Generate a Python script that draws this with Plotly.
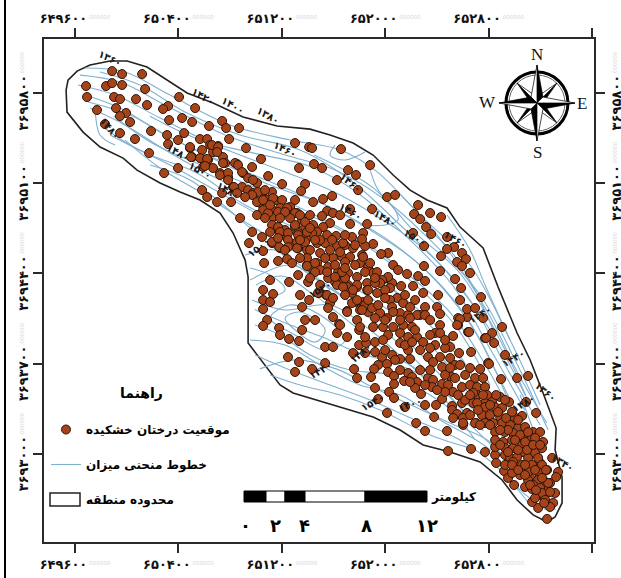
import plotly.graph_objects as go

EAST_BASE = 649000
NORTH_BASE = 3692000

x_tick_values = [649600, 650400, 651200, 652000, 652800, 653600]
x_tick_labels = ["۶۴۹۶۰۰", "۶۵۰۴۰۰", "۶۵۱۲۰۰", "۶۵۲۰۰۰", "۶۵۲۸۰۰", "۶۵۳۶۰۰"]
y_tick_values = [3693000, 3693700, 3694400, 3695100, 3695800]
y_tick_labels = ["۳۶۹۳۰۰۰", "۳۶۹۳۷۰۰", "۳۶۹۴۴۰۰", "۳۶۹۵۱۰۰", "۳۶۹۵۸۰۰"]

boundary = [(531,3823),(546,3900),(616,3970),(716,4017),(871,4048),(1003,4048),(1157,4001),(1312,3900),(1467,3800),(1668,3722),(1900,3614),(2163,3544),(2418,3520),(2573,3474),(2751,3412),(2906,3319),(3061,3164),(3192,3047),(3324,2970),(3478,2908),(3579,2760),(3757,2598),(3873,2295),(4020,1938),(4121,1729),(4221,1473),(4322,1201),(4314,1031),(4368,821),(4368,620),(4314,511),(4252,472),(4144,527),(4020,643),(3904,798),(3734,938),(3502,1015),(3293,1070),(3115,1186),(2906,1287),(2674,1357),(2473,1419),(2287,1473),(2186,1535),(2086,1667),(1939,1861),(1939,2140),(1939,2373),(1916,2504),(1823,2714),(1722,2869),(1567,2970),(1413,3032),(1258,3102),(1080,3202),(972,3295),(794,3381),(662,3497),(538,3652),(531,3823)]

contours = [
[(678,3994),(987,3963),(1335,3784),(1799,3552),(2264,3435),(2651,3358),(2921,3202),(3270,2853),(3656,2466),(3966,1884),(4198,1380)],
[(639,3939),(948,3885),(1297,3707),(1761,3474),(2225,3319),(2612,3202),(2999,2970),(3347,2660),(3734,2233),(4004,1729),(4260,1186)],
[(623,3862),(910,3784),(1258,3606),(1683,3396),(2186,3202),(2573,3047),(2921,2853),(3308,2582),(3656,2194),(3927,1690),(4198,1225)],
[(678,3784),(948,3683),(1258,3497),(1606,3319),(2109,3086),(2535,2931),(2883,2737),(3270,2466),(3618,2078),(3850,1651),(4121,1108)],
[(716,3683),(987,3552),(1297,3358),(1645,3164),(2070,2970),(2496,2815),(2844,2621),(3192,2349),(3540,2000),(3811,1535)],
[(794,3552),(1026,3396),(1335,3241),(1683,3047),(2032,2853),(2457,2660),(2805,2466),(3115,2233),(3463,1923),(3734,1496)],
[(987,3435),(1258,3218),(1606,3009),(1954,2776),(2341,2543),(2728,2311),(3076,2078),(3386,1806),(3656,1457)],
[(1181,3241),(1490,3125),(1838,2853),(2109,2621),(2418,2388),(2767,2155),(3115,1923),(3424,1613)],
[(794,3963),(1103,3862),(1451,3652),(1877,3474),(2341,3358),(2728,3125),(3115,2776),(3463,2427),(3811,1962),(4082,1457)],
[(701,3730),(1026,3629),(1374,3435),(1799,3241),(2264,3047),(2651,2877),(3076,2621),(3424,2310),(3734,1884),(3981,1341)],
[(871,3474),(1181,3319),(1529,3187),(1916,2931),(2302,2753),(2689,2543),(2999,2326),(3308,2039),(3618,1690),(3850,1341)],
[(1954,2349),(2264,2466),(2496,2349),(2805,2117),(3115,1845),(3424,1535),(3656,1264)],
[(1970,2194),(2225,2117),(2573,2155),(2883,1962),(3192,1690),(3463,1419),(3695,1108)],
[(2109,2054),(2264,2155),(2496,2078),(2689,1884),(2535,1806),(2302,1923),(2109,2054)],
[(2225,2054),(2341,2101),(2535,1962),(2457,1868),(2302,1962),(2225,2054)],
[(1954,1884),(2225,1845),(2496,1690),(2805,1535),(3115,1457),(3424,1264),(3811,1031),(4043,721),(4275,550)],
[(1993,1768),(2264,1651),(2573,1535),(2883,1419),(3231,1264),(3579,1108),(3889,876),(4121,604)],
[(2109,1613),(2341,1535),(2651,1457),(2960,1341),(3347,1147),(3656,1046)],
[(1993,2000),(2186,1923),(2418,1768),(2728,1651),(3037,1613),(3347,1457),(3656,1225),(3966,915),(4237,604)],
[(4043,1457),(4198,1031),(4275,721),(4314,565)],
[(3966,1264),(4121,876),(4237,565)],
[(2612,3396),(2573,3319),(2689,3280),(2844,3342)],
[(2883,3202),(2945,3047),(3076,2892),(3099,2815),(2999,2776),(2805,2776)],
[(3231,2931),(3308,2776),(3502,2582),(3695,2272),(3850,1923)],
[(3478,2854),(3656,2582),(3772,2311),(3966,1884)],
[(1916,2543),(2148,2582),(2341,2466),(2573,2272)],
[(1954,2442),(2109,2388),(2225,2272),(2032,2194)],
[(755,3707),(794,3474),(910,3396)],
[(1990,2120),(2240,2010),(2520,1905),(2780,1790),(3080,1700),(3380,1560),(3700,1330),(4010,1010),(4200,700)],
[(2030,1660),(2300,1730),(2620,1660),(2900,1520),(3200,1380),(3500,1240),(3800,1100),(4000,870)],
[(2000,2310),(2200,2380),(2440,2240),(2740,2010),(3020,1790),(3300,1620),(3560,1380),(3760,1180)],
[(3120,3010),(3400,2700),(3620,2380),(3820,2050),(4030,1620),(4250,1240)],
[(1180,3620),(1560,3440),(2000,3330),(2420,3230),(2780,3030),(3160,2690),(3520,2310),(3820,1800),(4080,1340)],
[(900,3620),(1200,3410),(1600,3230),(2010,3060),(2400,2880),(2780,2680),(3140,2420),(3500,2100),(3770,1700),(3960,1350)],
[(2450,3320),(2900,3070),(3240,2710),(3580,2400),(3880,1900),(4110,1400)],
]

trees = [(887,3970),(964,3947),(1119,3947),(685,3854),(840,3854),(887,3877),(964,3862),(1142,3831),(693,3769),(902,3769),(948,3753),(1072,3753),(1405,3769),(1157,3707),(770,3668),(917,3683),(995,3645),(948,3621),(1026,3575),(1320,3699),(1281,3676),(1529,3683),(1328,3590),(1428,3606),(1506,3575),(1637,3544),(1738,3583),(1769,3528),(1869,3528),(832,3559),(948,3489),(1064,3443),(1188,3505),(1312,3474),(1444,3489),(1397,3435),(1320,3404),(1173,3334),(1490,3373),(1567,3443),(1622,3443),(1792,3443),(1923,3373),(2302,3412),(2411,3381),(1645,3396),(1707,3389),(1583,3358),(1668,3342),(1745,3303),(1506,3303),(1567,3295),(1629,3280),(1591,3226),(1668,3218),(1397,3218),(1289,3179),(1761,3257),(1854,3249),(1970,3226),(2039,3288),(1722,3179),(1784,3148),(1900,3179),(1939,3140),(2094,3156),(2333,3218),(1583,3047),(1622,2993),(1699,2954),(1807,2954),(1738,3024),(1823,3071),(1892,3071),(1939,3047),(2008,3102),(1977,3024),(2055,3032),(2124,3032),(2202,3094),(2380,3094),(2349,3040),(1877,2830),(1970,2722),(1946,2636),(2047,2683),(2055,2574),(2063,2481),(2171,2497),(2241,2512),(2109,2349),(2032,2947),(2086,2970),(2148,2970),(2202,2970),(2055,2892),(2124,2892),(2186,2908),(2264,2916),(2318,2869),(2357,2815),(2132,2838),(2124,2776),(2171,2737),(2225,2737),(2109,2722),(2302,2760),(2380,2760),(2241,2675),(2163,2660),(2124,2636),(2186,2597),(2264,2621),(2326,2597),(2395,2582),(2395,2466),(2326,2388),(2403,2334),(2326,2714),(2403,2683),
(2658,3365),(2434,3373),(2449,3249),(2511,3218),(2712,3202),(2774,3164),(2627,3125),(2790,3047),(2883,3241),(3014,2993),(3076,3009),(2589,3001),(2519,2978),(2442,2954),(2898,2900),(3254,2931),(3223,2861),(3270,2822),(3347,2869),(3432,2838),(3316,2760),(3355,2706),(3215,2714),(3300,2613),(3478,2683),(3533,2605),(3478,2590),(3432,2535),(3594,2559),(3625,2512),(3556,2489),(3594,2458),(3656,2404),(3540,2357),(3424,2419),(3300,2458),(3022,2559),(2968,2551),(3061,2466),(3099,2427),(3169,2396),(3254,2380),(3308,2342),(3014,2365),(3123,2303),(3053,2326),(3215,2303),(3587,2287),(2728,2900),(2728,2784),(2860,2784),(2829,2714),(2743,2683),(2906,2629),(2844,2613),(2821,2667),(2550,2885),(2596,2869),(2511,2846),(2651,2853),(2573,2791),(2519,2760),(2442,2776),(2473,2722),(2550,2698),(2620,2691),(2473,2636),(2535,2636),(2627,2613),(2689,2621),(2751,2597),(2821,2543),(2496,2559),(2596,2520),(2666,2528),(2728,2528),(2805,2481),(2867,2450),(2906,2404),(2945,2349),(3022,2373),(2558,2450),(2635,2411),(2712,2404),(2782,2373),(2651,2334),(2612,2334),(2712,2311),(2782,2295),(2860,2326),(2442,2427),(2473,2481),(2434,2714),(2418,2582),
(2279,2481),(2256,2334),(2055,2272),(2132,2241),(2055,2194),(2109,2179),(2341,2233),(2411,2194),(2357,2140),(2488,2249),(2542,2233),(2589,2202),(2573,2171),(2558,2132),(2055,2124),(2596,2062),(2705,2109),(2782,2039),(2643,2008),(2380,2039),(2457,2039),(2086,2039),(2055,1993),(2179,1977),(2357,1962),(2627,1938),(2705,1907),(2798,1962),(2333,1876),(2256,1892),(2186,1923),(2535,1830),(2596,1830),(2798,1845),(2751,1783),(2248,1752),(2333,1713),(2535,1705),(2434,1659),(2302,1636),(2759,1659),(2852,1861),(2844,1783),(2782,1589),(2395,2520),(2395,2458),(2457,2481),(2496,2427),(2457,2411),(2558,2365),(2627,2373),(2689,2365),(2666,2411),(2627,2311),(2705,2295),(2782,2311),(2743,2249),(2860,2272),(2767,2179),(2829,2179),(2805,2117),(2867,2101),
(2674,2636),(2829,2528),(2883,2481),(2937,2411),(2976,2349),(3037,2287),(3092,2210),(2867,2272),(2937,2249),(2999,2272),(3037,2194),(2844,2155),(2898,2132),(2960,2093),(3014,2054),(3053,2140),(3115,2093),(3177,2078),(3308,2140),(3401,2140),(3270,2078),(2960,2326),(2921,2326),(2612,2373),(2550,2411),(2480,2249),(2550,2233),(2596,2210),(2705,2101),(2651,2000),(2805,1985),(2674,2295),(2751,2272),(2743,2171),(2821,2117),(2782,2194),(2689,2233),(3293,2249),(3409,2233),(3138,2171),(3192,2140),
(3061,2101),(3246,2078),(3308,2078),(3424,2086),(3564,2054),(3633,2062),(3564,2000),(3641,1946),(3772,1899),(3525,1915),(3424,2000),(3386,1938),(3424,1938),(2844,1907),(2906,1985),(2983,1985),(3061,1985),(3138,2000),(3208,1985),(3022,1923),(3115,1861),(3177,1907),(3246,1907),(3293,1868),(3386,1845),(3502,1830),(3571,1783),(3664,1791),(2921,1868),(2983,1884),(3053,1768),(3177,1806),(3270,1806),(3331,1752),(3424,1752),(3115,1737),(3192,1737),(3370,1713),(3440,1675),(3502,1744),(3540,1690),(3656,1667),(3734,1659),(3796,1706),(2976,1752),(2945,1690),(3014,1698),(2914,1659),(2890,1597),(3022,1636),(3068,1605),(3177,1628),(3208,1597),(3146,1566),(3246,1558),(3331,1589),(3370,1574),(3362,1519),(3440,1543),(3502,1605),(3486,1535),(3594,1519),(3695,1589),(3757,1589),(3656,1535),(3711,1519),(3772,1519),(3525,1481),(3711,1457),(3788,1457),(3680,1395),(3772,1395),(3068,1543),(2921,1512),(3030,1481),(3068,1434),(2945,1426),(3277,1465),(3440,1426),(3517,1372),(3594,1395),(3308,1380),(3393,1380),(3153,1364),(3517,1341),(3556,1310),(3633,1318),(3378,1287),(3014,1318),(3525,1279),(3602,1279),(3703,1240),(3602,1225),(3788,1248),(3239,1240),(3308,1178),(3478,1178),
(3741,2217),(3579,2194),(3633,2124),(3695,2132),(3757,2054),(3579,2047),(3556,2000),(3649,1946),(3904,1985),(3827,1938),(3780,1899),(3842,1861),(3927,1768),(3803,1698),(3896,1581),(4020,1589),(4105,1605),(3958,1403),(4090,1403),(4059,1295),(4167,1318),(3997,1287),(4291,969),(4337,860),(3664,1039),(3772,1015),(3486,1023),(3850,992),(3858,930),(3850,1054),(3919,868),(3950,814),(3997,759),(4082,744),(4136,627),(4183,581),(4252,496),(4299,620),(4314,697),(4275,589),(4252,697),(4183,682),(4136,728),(4221,744),(4275,775),(4322,821),(4252,876),(4198,930),(4121,814),(4043,837),(3981,852),
(3680,1473),(3757,1457),(3827,1403),(3889,1442),(3711,1395),(3772,1364),(3850,1364),(3904,1357),(3749,1302),(3811,1302),(3889,1287),(3602,1240),(3695,1240),(3772,1240),(3834,1240),(3904,1240),(3966,1225),(4028,1201),(4082,1209),(4144,1170),(4198,1170),(3850,1170),(3927,1170),(3989,1163),(4066,1132),(4136,1124),(3850,1108),(3912,1093),(3981,1108),(4059,1070),(4121,1070),(4221,1093),(4213,1046),(3927,1046),(3989,1046),(4066,1015),(4159,1008),(3927,992),(3966,969),(4020,977),(4105,969),(4183,969),(3927,915),(3989,938),(4059,915),(4136,915),(4213,915),(4105,860),(4183,860),(4244,876),(4105,798),(4183,798),(4144,759),(4198,736),(4260,775),(4213,697),(4275,705),(4237,643),(4159,658),
(1490,3381),(1660,3396),(1707,3381),(1699,3342),(1745,3257),(1498,3303),(1622,3288),(1606,3234),(1722,3164),(1784,3179),(1784,3125),(1838,3257),(1861,3241),(1892,3187),(1977,3125),(1830,3071),(2016,3032),(2070,3047),(1970,3009),(1916,2993),(1854,3024),(2008,2954),(2055,2970),(2132,2985),(2094,2869),(2008,2853),(2171,2877),(2241,2908),(2302,2869),(2341,2853),(2171,2760),(2302,2776),(2380,2799),(2186,2722),(2248,2714),(2326,2698),(2395,2722),(2124,2644),(2171,2675),(2248,2660),(2318,2644),(2380,2644),(2179,2605),(2248,2605),(2318,2597),
(3873,1326),(3935,1279),(3981,1326),(4028,1264),(3950,1186),(4043,1147),(4105,1170),(4004,1108),(4082,1093),(4159,1124),(3889,1070),(3950,1015),(4028,1031),(4097,1031),(4144,1070),(4198,1070),(3981,915),(4028,876),(4082,915),(4159,876),(4082,837),(4121,759),(4213,814),(4167,720),(4229,620),(3889,1186),(3811,1225),(3734,1225),(3656,1302),(3718,1341),(3811,1380),(3927,1419),(3858,1457),(3618,1419),(3564,1457),(3656,1457),(3463,1481),(3401,1496),(3308,1535),(3231,1512),(3192,1558),(3115,1651),(3270,1651),(3347,1651),(3463,1613),(3540,1589),(3618,1613),(3579,1690),(3502,1667),(3076,1729),(2999,1806),(2921,1791),(3153,1845),(3208,1868),(3347,1822),(3463,1822),(3463,1884),(3347,1923),(3231,1962),(3115,1938),(2999,2039),(3115,2039),(3192,2054),(3347,2039),(2921,2054),(2867,2194),(2945,2155),(2999,2210),(3153,2233),(3231,2194),(2921,2365),(2844,2411),(2767,2466),(2689,2489),(2612,2466),(2535,2520),(2689,2443),(2573,2582),(2651,2566),(2496,2660),(2589,2660),(2689,2698),(2767,2621),(2264,2830),(2225,2877),(2418,2753),(2457,2660),(2341,2660),(2418,2853),(2302,2970),(2109,2931),(2070,2830),(2186,2830),(2225,2582),(2341,2520),(2418,2365),(2496,2311)]

contour_label_east = [871,1591,1823,2094,2225,871,1397,1567,1784,2728,2728,2999,3231,3540,2016,2496,3989,4237,4066,4368,3734,2898,3192,2805,2496]
contour_label_north = [4071,3776,3707,3629,3365,3528,3342,3202,3047,3102,2877,2830,2683,2660,2605,2272,1744,1481,1395,930,2078,1403,1380,1783,1651]
contour_label_text = ["۱۳۶۰","۱۴۲۰","۱۴۰۰","۱۳۸۰","۱۴۶۰","۱۴۸۰","۱۴۸۰","۱۵۰۰","۱۴۸۰","۱۴۶۰","۱۴۶۰","۱۴۸۰","۱۵۰۰","۱۴۶۰","۱۵۰۰","۱۵۲۰","۱۴۴۰","۱۳۶۰","۱۴۸۰","۱۳۴۰","۱۴۴۰","۱۵۴۰","۱۴۰۰","۱۴۸۰","۱۴۴۰"]
contour_label_angle = [25,30,30,30,25,50,30,30,30,40,30,30,30,30,-40,-30,-30,40,-30,30,-30,-30,-20,-40,-30]

legend_names = ["موقعیت درختان خشکیده", "خطوط منحنی میزان", "محدوده منطقه"]
legend_title = "راهنما"
scale_unit = "کیلومتر"
scale_labels = ["۰", "۲", "۴", "۸", "۱۲"]

FONT = "DejaVu Sans"
DARK = "#2a2a2a"
XRANGE = [649360, 653615]
YRANGE = [3692317, 3696219]

east = lambda pts: [EAST_BASE + p[0] for p in pts]
north = lambda pts: [NORTH_BASE + p[1] for p in pts]

cx, cy = [], []
for line in contours:
    cx += east(line) + [None]
    cy += north(line) + [None]

fig = go.Figure()
fig.add_trace(go.Bar(x=[None], y=[None], name=legend_names[2], legendgroup="c", legendrank=3,
                     marker=dict(color="rgba(0,0,0,0)", line=dict(width=0))))
fig.add_trace(go.Scatter(x=east(boundary), y=north(boundary), mode="lines", fill="toself",
                         fillcolor="white", line=dict(color="#222222", width=1.6), showlegend=False))
fig.add_trace(go.Scatter(x=cx, y=cy, mode="lines", line=dict(color="#7fb1d0", width=1.1, shape="spline"),
                         connectgaps=False, name=legend_names[1], legendgroup="b", legendrank=2))
fig.add_trace(go.Scatter(x=east(trees), y=north(trees), mode="markers",
                         marker=dict(size=9, color="#a5431a", line=dict(color="#2e1608", width=1)),
                         name=legend_names[0], legendgroup="a", legendrank=1))
fig.add_trace(go.Scatter(x=[None], y=[None], xaxis="x2", yaxis="y2", showlegend=False, hoverinfo="skip"))


def decorate(label, sup="000000"):
    return f"<b>{label}</b><span style='color:#d9d9d9;font-size:8px'><sup>.{sup}</sup></span>"


def px_x(p):
    return (p - 44) / 550


def px_y(p):
    return (542 - p) / 503


def path(points):
    return "M" + " L".join(f"{px_x(a):.5f},{px_y(b):.5f}" for a, b in points) + " Z"


shapes = []
shapes.append(dict(type="line", xref="paper", yref="paper", x0=px_x(5), x1=px_x(5), y0=px_y(0), y1=px_y(578),
                   line=dict(color="black", width=2)))
shapes.append(dict(type="rect", xref="paper", yref="paper", x0=px_x(50), x1=px_x(80), y0=px_y(506), y1=px_y(493),
                   fillcolor="white", line=dict(color="#222222", width=1.5)))
segments = [(244, 266, "black"), (266, 285, "white"), (285, 305, "black"), (305, 365, "white"), (365, 427, "black")]
for a, b, col in segments:
    shapes.append(dict(type="rect", xref="paper", yref="paper", x0=px_x(a), x1=px_x(b), y0=px_y(502), y1=px_y(491),
                       fillcolor=col, line=dict(color="black", width=1)))
CX, CY = 537, 103
for r, w, col in [(31, 3, "black"), (28, 1, "#666666")]:
    shapes.append(dict(type="circle", xref="paper", yref="paper", x0=px_x(CX - r), x1=px_x(CX + r),
                       y0=px_y(CY + r), y1=px_y(CY - r), line=dict(color=col, width=w), fillcolor="rgba(0,0,0,0)"))
diag = [(-1, -1), (1, -1), (1, 1), (-1, 1)]
for dx, dy in diag:
    tip = (CX + 20 * dx, CY + 20 * dy)
    side_a = (CX + 6 * dx, CY)
    side_b = (CX, CY + 6 * dy)
    shapes.append(dict(type="path", xref="paper", yref="paper", path=path([(CX, CY), tip, side_a]),
                       fillcolor="black", line=dict(color="black", width=0.7)))
    shapes.append(dict(type="path", xref="paper", yref="paper", path=path([(CX, CY), tip, side_b]),
                       fillcolor="white", line=dict(color="black", width=0.7)))
main = [((0, -38), (6, -6), (-6, -6)), ((38, 0), (6, 6), (6, -6)), ((0, 38), (-6, 6), (6, 6)), ((-38, 0), (-6, -6), (-6, 6))]
for t, s1, s2 in main:
    tip = (CX + t[0], CY + t[1])
    shapes.append(dict(type="path", xref="paper", yref="paper", path=path([(CX, CY), tip, (CX + s1[0], CY + s1[1])]),
                       fillcolor="black", line=dict(color="black", width=0.7)))
    shapes.append(dict(type="path", xref="paper", yref="paper", path=path([(CX, CY), tip, (CX + s2[0], CY + s2[1])]),
                       fillcolor="white", line=dict(color="black", width=0.7)))

annotations = []
for e, n, t, a in zip(contour_label_east, contour_label_north, contour_label_text, contour_label_angle):
    annotations.append(dict(x=EAST_BASE + e, y=NORTH_BASE + n, xref="x", yref="y", text=f"<b>{t}</b>", textangle=a,
                            showarrow=False, xanchor="center", yanchor="middle",
                            font=dict(family=FONT, size=10, color="#1a1a1a")))


def note(text, a, b, family, size, color="black"):
    annotations.append(dict(x=px_x(a), y=px_y(b), xref="paper", yref="paper", text=text, showarrow=False,
                            xanchor="center", yanchor="middle", font=dict(family=family, size=size, color=color)))


for txt, a, b in [("N", 537, 54), ("S", 537, 152), ("W", 487, 103), ("E", 582, 104)]:
    note(txt, a, b, "Liberation Serif", 17, "#111111")
note(f"<b>{legend_title}</b>", 141, 393, FONT, 14)
note(f"<b>{scale_unit}</b>", 453, 497, FONT, 12)
for t, a in zip(scale_labels, [245, 275, 304, 366, 427]):
    note(f"<b>{t}</b>", a, 525, FONT, 18)

xaxis = dict(range=XRANGE, tickmode="array", tickvals=x_tick_values, ticktext=[decorate(t) for t in x_tick_labels],
             ticks="outside", ticklen=9, tickwidth=2, tickcolor=DARK, showgrid=False, zeroline=False,
             showline=True, linewidth=2, linecolor=DARK, tickfont=dict(family=FONT, size=13, color="#111111"),
             tickangle=0, automargin=False, fixedrange=True)
yaxis = dict(range=YRANGE, tickmode="array", tickvals=y_tick_values, ticktext=[decorate(t) for t in y_tick_labels],
             ticks="outside", ticklen=9, tickwidth=2, tickcolor=DARK, showgrid=False, zeroline=False,
             showline=True, linewidth=2, linecolor=DARK, tickfont=dict(family=FONT, size=13, color="#111111"),
             tickangle=-90, automargin=False, fixedrange=True)

fig.update_layout(
    width=621, height=578, autosize=False,
    margin=dict(l=44, r=27, t=39, b=36),
    paper_bgcolor="white", plot_bgcolor="white",
    xaxis=xaxis, yaxis=yaxis,
    xaxis2=dict(xaxis, overlaying="x", side="top", anchor="y"),
    yaxis2=dict(yaxis, overlaying="y", side="right", anchor="x"),
    shapes=shapes, annotations=annotations,
    legend=dict(x=px_x(46), y=px_y(415), xanchor="left", yanchor="top", traceorder="grouped",
                tracegroupgap=16, itemwidth=30, bgcolor="rgba(0,0,0,0)", itemclick=False,
                font=dict(family=FONT, size=12, color="black", weight=700)),
)
fig.write_html("out.html", config=dict(displayModeBar=False),
               post_script="document.body.style.margin='0';document.documentElement.style.overflow='hidden';")
